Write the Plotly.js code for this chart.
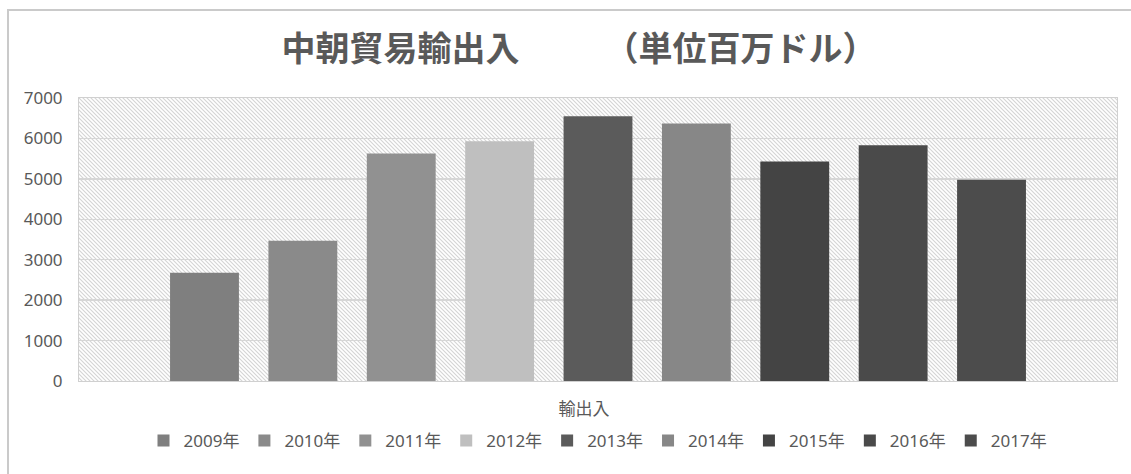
<!DOCTYPE html>
<html>
<head>
<meta charset="utf-8">
<script src="https://cdn.plot.ly/plotly-3.0.1.min.js"></script>
<style>
  html, body { margin: 0; padding: 0; background: #ffffff; }
  #wrap { position: relative; width: 1131px; height: 474px; overflow: hidden; }
  #frame { position: absolute; left: 7px; top: 9px; width: 1200px; height: 600px;
           border-left: 2px solid #cacaca; border-top: 2px solid #cacaca; }
  #chart { position: absolute; left: 0; top: 0; width: 1131px; height: 474px; }
</style>
</head>
<body>
<div id="wrap">
  <div id="frame"></div>
  <div id="chart"></div>
</div>
<script>
const category = ["輸出入"];
const years = ["2009年", "2010年", "2011年", "2012年", "2013年", "2014年", "2015年", "2016年", "2017年"];
const values = [2680, 3470, 5630, 5930, 6550, 6370, 5430, 5830, 4980];
const colors = ["#7f7f7f", "#8a8a8a", "#919191", "#bfbfbf", "#5b5b5b", "#878787", "#444444", "#4a4a4a", "#4c4c4c"];
const yTicks = [0, 1000, 2000, 3000, 4000, 5000, 6000, 7000];

const textColor = "#595959";
const font = "'Noto Sans', 'Noto Sans CJK JP', sans-serif";
const titleFont = "'Noto Sans CJK JP', sans-serif";

const traces = years.map((y, i) => ({
  type: "bar",
  name: y,
  x: category,
  y: [values[i]],
  marker: { color: colors[i], line: { width: 0 } },
  hoverinfo: "name+y"
}));

const svg = '<svg xmlns="http://www.w3.org/2000/svg" width="1038" height="283" viewBox="0 0 1038 283" preserveAspectRatio="none">' +
  '<defs><pattern id="h" patternUnits="userSpaceOnUse" width="4" height="4">' +
  '<rect width="4" height="4" fill="#ffffff"/>' +
  '<path d="M0,0 L4,4 M-1,3 L1,5 M3,-1 L5,1" stroke="#d4d4d4" stroke-width="1.1"/>' +
  '</pattern></defs><rect width="1038" height="283" fill="url(#h)"/></svg>';
const hatchSrc = "data:image/svg+xml;charset=utf-8," + encodeURIComponent(svg);

const layout = {
  width: 1131,
  height: 474,
  margin: { l: 79, r: 14, t: 98, b: 93 },
  paper_bgcolor: "rgba(0,0,0,0)",
  plot_bgcolor: "rgba(0,0,0,0)",
  font: { family: font, color: textColor, size: 17 },
  title: {
    text: "<b>中朝貿易輸出入　　　（単位百万ドル）</b>",
    font: { family: titleFont, size: 34, color: textColor },
    x: 0.512, xref: "container", xanchor: "center",
    y: 50, yref: "container", yanchor: "middle"
  },
  barmode: "group",
  bargap: 0.147,
  bargroupgap: 0.3,
  showlegend: true,
  legend: {
    orientation: "h",
    x: 0.5, xanchor: "center",
    y: -0.212, yanchor: "middle",
    font: { family: font, size: 17, color: textColor },
    traceorder: "normal"
  },
  xaxis: {
    type: "category",
    showgrid: false,
    showline: true, mirror: true, linecolor: "#d0d0d0", linewidth: 1,
    ticks: "",
    ticklabelstandoff: 13,
    ticklabelshift: -14,
    tickfont: { family: font, size: 17, color: textColor },
    zeroline: false,
    fixedrange: true
  },
  yaxis: {
    range: [0, 7000],
    tickvals: yTicks,
    ticktext: yTicks.map(String),
    showgrid: true, gridcolor: "#d6d6d6", gridwidth: 1.5,
    showline: true, mirror: true, linecolor: "#d0d0d0", linewidth: 1,
    ticks: "",
    ticklabelstandoff: 12,
    tickfont: { family: font, size: 17, color: textColor },
    zeroline: false,
    fixedrange: true
  },
  images: [{
    source: hatchSrc,
    xref: "paper", yref: "paper",
    x: 0, y: 1, sizex: 1, sizey: 1,
    xanchor: "left", yanchor: "top",
    sizing: "stretch", layer: "below"
  }]
};

Plotly.newPlot("chart", traces, layout, { displayModeBar: false, staticPlot: true });
</script>
</body>
</html>
